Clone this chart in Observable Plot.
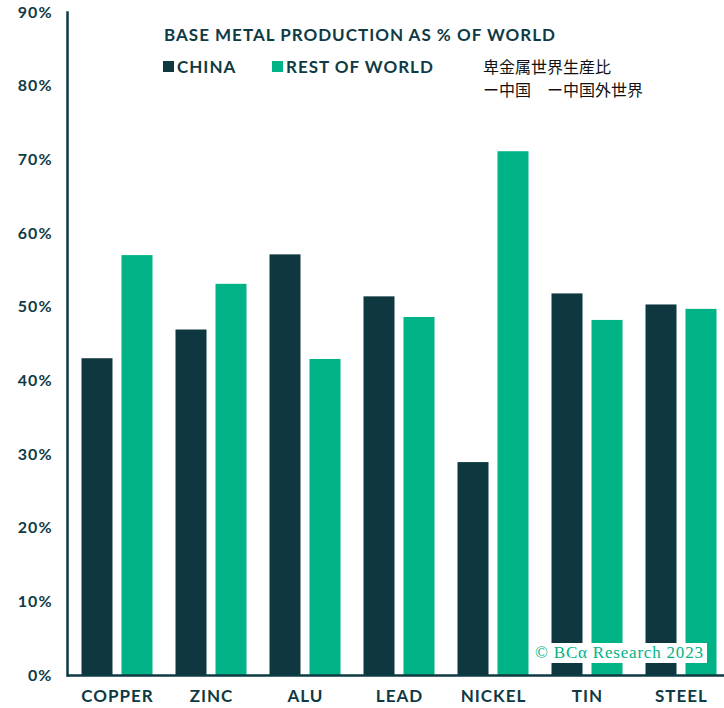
<!DOCTYPE html>
<html>
<head>
<meta charset="utf-8">
<script src="https://cdn.jsdelivr.net/npm/d3@7"></script>
<script src="https://cdn.jsdelivr.net/npm/@observablehq/plot@0.6"></script>
<style>
  html, body { margin: 0; padding: 0; background: #fff; overflow: hidden; }
  #wrap { position: relative; width: 724px; height: 708px; }
  .ann { position: absolute; white-space: nowrap; color: #0f3a44; font-family: Lato, sans-serif; font-weight: 700; font-size: 17px; letter-spacing: 1px; line-height: 22px; }
  .sw { display: inline-block; width: 11px; height: 11px; margin-right: 3px; vertical-align: 1px; }
  .jp { position: absolute; white-space: nowrap; font-family: "Noto Sans CJK JP", sans-serif; font-size: 16px; line-height: 18px; color: #111; }
  .wm { position: absolute; background: #fff; color: #00b386; font-family: "Liberation Serif", "DejaVu Serif", serif; font-size: 17px; letter-spacing: 0.8px; padding: 0 3px 0 5px; line-height: 20px; }
</style>
</head>
<body>
<div id="wrap"></div>
<script>
const metals = ["COPPER", "ZINC", "ALU", "LEAD", "NICKEL", "TIN", "STEEL"];
const chinaShare = [43.0, 46.9, 57.1, 51.4, 28.9, 51.8, 50.3];
const restShare = [57.0, 53.1, 42.9, 48.6, 71.1, 48.2, 49.7];
const yTicks = [0, 10, 20, 30, 40, 50, 60, 70, 80, 90];
const seriesNames = ["CHINA", "REST OF WORLD"];
const colors = ["#0f3740", "#00b386"];

const chinaData = metals.map((m, i) => ({metal: m, value: chinaShare[i]}));
const restData = metals.map((m, i) => ({metal: m, value: restShare[i]}));

const ink = "#0f3a44";
const chart = Plot.plot({
  width: 724,
  height: 708,
  marginTop: 12,
  marginBottom: 33,
  marginLeft: 67,
  marginRight: 0,
  style: {background: "transparent", fontFamily: "Lato, sans-serif", color: ink, overflow: "visible", letterSpacing: "1px"},
  x: {domain: metals, range: [67.5, 730.5], padding: 0},
  y: {domain: [0, 90], ticks: yTicks},
  marks: [
    Plot.barY(chinaData, {x: "metal", y: "value", fill: colors[0], insetLeft: 11.5, insetRight: 51.5}),
    Plot.barY(restData, {x: "metal", y: "value", fill: colors[1], insetLeft: 51.5, insetRight: 11.5}),
    Plot.frame({anchor: "left", stroke: ink, strokeWidth: 2.5}),
    Plot.ruleY([0], {stroke: ink, strokeWidth: 2.5}),
    Plot.axisY({ticks: yTicks, tickSize: 0, tickPadding: 15, tickFormat: d => d + "%", fontSize: 16, fontWeight: 700, label: null, fill: ink}),
    Plot.axisX({tickSize: 0, tickPadding: 14, fontSize: 17, fontWeight: 700, label: null, fill: ink})
  ]
});

const wrap = document.getElementById("wrap");
wrap.appendChild(chart);

function addDiv(cls, html, left, top, extra) {
  const d = document.createElement("div");
  d.className = cls;
  d.innerHTML = html;
  d.style.left = left + "px";
  d.style.top = top + "px";
  if (extra) Object.assign(d.style, extra);
  wrap.appendChild(d);
  return d;
}

addDiv("ann", "BASE METAL PRODUCTION AS % OF WORLD", 164, 24);
addDiv("ann", `<span class="sw" style="background:${colors[0]}"></span>${seriesNames[0]}`, 163, 56);
addDiv("ann", `<span class="sw" style="background:${colors[1]}"></span>${seriesNames[1]}`, 272, 56);
addDiv("jp", "卑金属世界生産比", 483, 57);
addDiv("jp", "ー中国　ー中国外世界", 483, 80);
addDiv("wm", "© BCα Research 2023", 530, 643);
</script>
</body>
</html>
